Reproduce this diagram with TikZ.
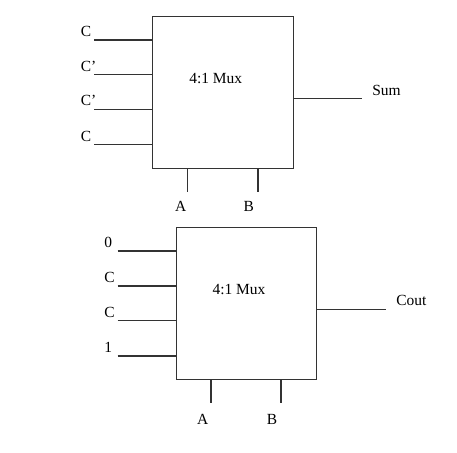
\documentclass[tikz,border=0pt]{standalone}
\usepackage{fontspec}
\setmainfont{Liberation Serif}
\begin{document}
\begin{tikzpicture}[x=0.75pt,y=-0.75pt,
  wire/.style={draw=black!80, line width=0.8pt},
  muxbox/.style={draw=black!80, line width=0.8pt, rectangle, inner sep=0pt, anchor=north west},
  lbl/.style={font=\fontsize{11.6}{13}\selectfont, inner sep=0pt}]
\useasboundingbox (0,0) rectangle (457,453);
% top mux
\node[muxbox, minimum width=140.4*0.75pt, minimum height=151.7*0.75pt] (m1) at (152.3,16) {};
\node[lbl] (t1) at (215.7,79) {4:1 Mux};
\foreach \i/\y/\t in {1/40/C,2/74.7/C’,3/109.3/C’,4/144.7/C}{
  \coordinate (a\i) at (94.3,\y);
  \draw[wire] (a\i) -- (a\i -| m1.west);
  \node[lbl, anchor=west] (la\i) at (80.5,\y-8.5) {\t};
}
\coordinate (s1) at (362.3,98.3);
\draw[wire] (s1 -| m1.east) -- (s1);
\node[lbl] (sum) at (386.5,90.7) {Sum};
\coordinate (sa1) at (187.7,191.7);
\coordinate (sb1) at (258,191.7);
\draw[wire] (sa1 |- m1.south) -- (sa1);
\draw[wire] (sb1 |- m1.south) -- (sb1);
\node[lbl] (A1) at (180.7,206) {A};
\node[lbl] (B1) at (248.7,206) {B};
% bottom mux
\node[muxbox, minimum width=140.3*0.75pt, minimum height=152*0.75pt] (m2) at (176,227.3) {};
\node[lbl] (t2) at (239,289.7) {4:1 Mux};
\foreach \i/\y/\t in {1/251/0,2/286/C,3/320.7/C,4/356/1}{
  \coordinate (b\i) at (117.7,\y);
  \draw[wire] (b\i) -- (b\i -| m2.west);
  \node[lbl, anchor=west] (lb\i) at (104,\y-8.5) {\t};
}
\coordinate (s2) at (386,309.3);
\draw[wire] (s2 -| m2.east) -- (s2);
\node[lbl] (cout) at (411.3,300.7) {Cout};
\coordinate (sa2) at (211,402.7);
\coordinate (sb2) at (281,402.7);
\draw[wire] (sa2 |- m2.south) -- (sa2);
\draw[wire] (sb2 |- m2.south) -- (sb2);
\node[lbl] (A2) at (202.7,419) {A};
\node[lbl] (B2) at (272,419) {B};
\end{tikzpicture}
\end{document}
